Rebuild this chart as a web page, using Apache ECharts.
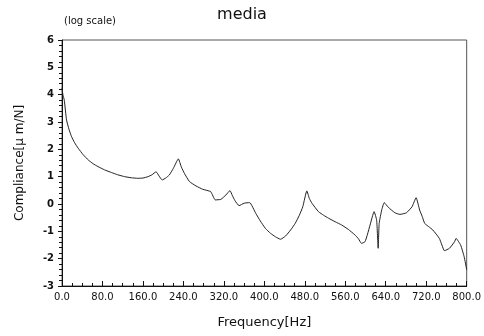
<!DOCTYPE html>
<html><head><meta charset="utf-8">
<script src="https://cdn.jsdelivr.net/npm/echarts@6/dist/echarts.min.js"></script>
<style>html,body{margin:0;padding:0;background:#fff}#c{width:484px;height:336px}</style>
</head><body><div id="c"></div>
<script>
var frequency = [0,1,2,4.5,9,14,19,25,32,42,52,61,71,84,98,110,124,137,150,160,170,178,186,192,198,205,212,220,230,236,242,252,265,278,294,303,314,324,332,337,342,350,360,371,383,392,402,412,422,432,442,452,461,469,476,484,489,494,507,517,527,540,553,566,579,586,592,599,604,609,617,622,625,627,632,637,645,658,668,681,692,700,707,712,717,725,733,746,751,756,766,776,779,788,795,800];
var compliance = [4.25,4.1,3.98,3.8,3.07,2.72,2.46,2.24,2.04,1.8,1.61,1.48,1.37,1.25,1.15,1.07,1.0,0.96,0.94,0.95,1.0,1.07,1.18,1.02,0.88,0.95,1.06,1.3,1.65,1.35,1.12,0.82,0.66,0.54,0.45,0.15,0.17,0.33,0.49,0.3,0.12,-0.06,0.03,0.05,-0.34,-0.62,-0.89,-1.07,-1.2,-1.29,-1.17,-0.95,-0.71,-0.42,-0.1,0.48,0.2,0.03,-0.28,-0.41,-0.52,-0.65,-0.77,-0.93,-1.13,-1.27,-1.44,-1.38,-1.1,-0.77,-0.28,-0.59,-1.62,-0.71,-0.22,0.05,-0.12,-0.32,-0.38,-0.32,-0.1,0.23,-0.22,-0.45,-0.71,-0.83,-0.95,-1.26,-1.5,-1.71,-1.62,-1.38,-1.26,-1.5,-1.93,-2.4];
var xTicks = [0,80,160,240,320,400,480,560,640,720,800];
var yTicks = [-3,-2,-1,0,1,2,3,4,5,6];

var data = frequency.map(function(f,i){return [f, compliance[i]];});
var chart = echarts.init(document.getElementById('c'));
var font = 'DejaVu Sans';
chart.setOption({
  animation:false,
  backgroundColor:'#fff',
  title:{text:'media', left:'center', top:2, textStyle:{fontFamily:font, fontSize:16, fontWeight:'normal', color:'#111'}},
  graphic:[{type:'text', left:64, top:16, style:{text:'(log scale)', font:'10px DejaVu Sans', fill:'#111'}}],
  grid:{left:62, right:15, top:40, bottom:50, show:true, borderColor:'#555', borderWidth:1, backgroundColor:'transparent'},
  xAxis:{type:'value', min:xTicks[0], max:xTicks[xTicks.length-1], interval:80,
    name:'Frequency[Hz]', nameLocation:'middle', nameGap:30,
    nameTextStyle:{fontFamily:font, fontSize:13, color:'#111'},
    axisLine:{onZero:false, lineStyle:{color:'#111'}},
    axisTick:{inside:true, length:5, lineStyle:{color:'#111'}},
    minorTick:{show:true, splitNumber:4, length:3, lineStyle:{color:'#111'}},
    splitLine:{show:false},
    axisLabel:{fontFamily:font, fontSize:10, color:'#111', margin:6, formatter:function(v){return v.toFixed(1);}}
  },
  yAxis:{type:'value', min:yTicks[0], max:yTicks[yTicks.length-1], interval:1,
    name:'Compliance[\u03bc m/N]', nameLocation:'middle', nameGap:36, nameRotate:90,
    nameTextStyle:{fontFamily:font, fontSize:12, color:'#111'},
    axisLine:{onZero:false, lineStyle:{color:'#111'}},
    axisTick:{inside:false, length:4, lineStyle:{color:'#111'}},
    minorTick:{show:true, splitNumber:5, length:3, lineStyle:{color:'#111'}},
    splitLine:{show:false},
    axisLabel:{fontFamily:font, fontSize:10, fontWeight:'bold', color:'#111', margin:8}
  },
  series:[{type:'line', data:data, showSymbol:false, symbol:'none', smooth:0.15,
    lineStyle:{color:'#222', width:1}}]
});
</script></body></html>
